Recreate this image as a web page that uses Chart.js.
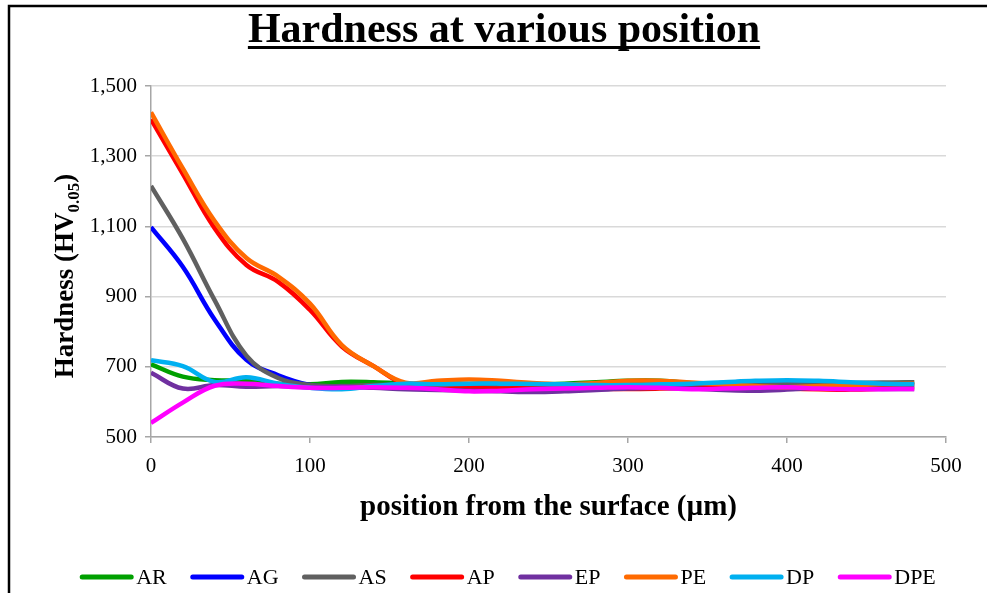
<!DOCTYPE html>
<html>
<head>
<meta charset="utf-8">
<title>Hardness at various position</title>
<script src="https://cdn.jsdelivr.net/npm/chart.js@4/dist/chart.umd.min.js"></script>
<style>
  html, body { margin: 0; padding: 0; background: #fff; }
  canvas { display: block; }
</style>
</head>
<body>
<canvas id="chart" width="987" height="593"></canvas>
<script>
// Measurement depths (µm from the surface)
const positions = [0, 20, 40, 60, 80, 100, 120, 140, 160, 180, 200, 220, 240, 260, 280, 300, 320, 340, 360, 380, 400, 420, 440, 460, 480];

// Hardness readings (HV0.05) for each surface treatment
const AR  = [707, 672, 662, 660, 652, 650, 657, 656, 652, 648, 645, 648, 650, 652, 656, 660, 660, 653, 645, 642, 645, 648, 650, 652, 656];
const AG  = [1098, 985, 835, 720, 676, 648, 640, 645, 648, 646, 645, 648, 646, 645, 644, 645, 647, 650, 654, 658, 656, 652, 648, 648, 648];
const AS  = [1215, 1065, 890, 732, 668, 648, 645, 648, 650, 652, 650, 648, 647, 645, 646, 648, 650, 650, 648, 648, 652, 654, 654, 655, 656];
const AP  = [1405, 1250, 1095, 990, 942, 862, 758, 702, 650, 645, 640, 638, 640, 640, 638, 637, 638, 640, 642, 640, 638, 636, 635, 638, 642];
const EP  = [683, 638, 648, 643, 645, 642, 643, 640, 636, 634, 632, 630, 628, 630, 634, 638, 640, 638, 634, 632, 635, 640, 638, 637, 637];
const PE  = [1425, 1265, 1115, 1010, 957, 880, 762, 702, 655, 660, 664, 660, 654, 650, 654, 660, 660, 655, 650, 645, 642, 645, 648, 650, 652];
const DP  = [719, 702, 657, 670, 652, 640, 636, 645, 652, 650, 652, 652, 651, 650, 648, 648, 650, 652, 656, 660, 662, 660, 656, 652, 650];
const DPE = [540, 598, 646, 652, 645, 640, 640, 642, 640, 636, 630, 632, 636, 638, 640, 642, 640, 636, 638, 640, 642, 638, 636, 636, 637];

const seriesNames  = ['AR', 'AG', 'AS', 'AP', 'EP', 'PE', 'DP', 'DPE'];
const seriesValues = [AR, AG, AS, AP, EP, PE, DP, DPE];
const seriesColors = ['#00a000', '#0000ff', '#606060', '#ff0000', '#7030a0', '#ff6a00', '#00b0f0', '#ff00ff'];

// Axis tick labels
const yTicks = [500, 700, 900, 1100, 1300, 1500];
const xTicks = [0, 100, 200, 300, 400, 500];

const SERIF = '"Liberation Serif", "Times New Roman", serif';

const datasets = seriesNames.map((name, i) => ({
  label: name,
  data: positions.map((x, k) => ({ x: x, y: seriesValues[i][k] })),
  borderColor: seriesColors[i],
  backgroundColor: seriesColors[i],
  borderWidth: 4.5,
  pointRadius: 0,
  tension: 0.4,
  fill: false,
  order: seriesNames.length - i   // later series painted on top
}));

// Frame, titles and legend drawn around the plot
const decor = {
  id: 'decor',
  beforeDraw(chart) {
    const ctx = chart.ctx;
    ctx.save();
    ctx.fillStyle = '#fff';
    ctx.fillRect(0, 0, chart.width, chart.height);
    ctx.strokeStyle = '#000';
    ctx.lineWidth = 2.5;
    ctx.beginPath();
    ctx.moveTo(9, chart.height);
    ctx.lineTo(9, 6);
    ctx.lineTo(chart.width, 6);
    ctx.stroke();
    ctx.restore();
  },
  afterDraw(chart) {
    const ctx = chart.ctx;
    const area = chart.chartArea;
    ctx.save();
    ctx.fillStyle = '#000';

    // Chart title, underlined
    const title = 'Hardness at various position';
    ctx.font = 'bold 42px ' + SERIF;
    ctx.textAlign = 'center';
    ctx.textBaseline = 'alphabetic';
    const tx = 504;
    ctx.fillText(title, tx, 42);
    const tw = ctx.measureText(title).width;
    ctx.fillRect(tx - tw / 2, 46, tw, 3);

    // X axis title
    ctx.font = 'bold 29px ' + SERIF;
    ctx.fillText('position from the surface (µm)', (area.left + area.right) / 2, 515);

    // Y axis title with subscript
    ctx.save();
    ctx.translate(73, 276);
    ctx.rotate(-Math.PI / 2);
    ctx.textAlign = 'left';
    const partA = 'Hardness (HV', sub = '0.05', partB = ')';
    const bigFont = 'bold 27px ' + SERIF, smallFont = 'bold 17px ' + SERIF;
    ctx.font = bigFont;
    const wA = ctx.measureText(partA).width, wB = ctx.measureText(partB).width;
    ctx.font = smallFont;
    const wS = ctx.measureText(sub).width;
    let x0 = -(wA + wS + wB) / 2;
    ctx.font = bigFont;
    ctx.fillText(partA, x0, 0);
    ctx.font = smallFont;
    ctx.fillText(sub, x0 + wA, 6);
    ctx.font = bigFont;
    ctx.fillText(partB, x0 + wA + wS, 0);
    ctx.restore();

    // Legend row
    ctx.font = '22px ' + SERIF;
    ctx.textAlign = 'left';
    ctx.textBaseline = 'middle';
    const sampleLen = 53, gap = 3, spacing = 24, ly = 577;
    const items = chart.data.datasets.map(ds => ({ label: ds.label, color: ds.borderColor, w: ctx.measureText(ds.label).width }));
    const total = items.reduce((s, it) => s + sampleLen + gap + it.w, 0) + spacing * (items.length - 1);
    let lx = 508 - total / 2;
    items.forEach(it => {
      ctx.strokeStyle = it.color;
      ctx.lineWidth = 5;
      ctx.lineCap = 'round';
      ctx.beginPath();
      ctx.moveTo(lx + 2, ly);
      ctx.lineTo(lx + sampleLen - 2, ly);
      ctx.stroke();
      ctx.fillStyle = '#000';
      ctx.fillText(it.label, lx + sampleLen + gap, ly + 1);
      lx += sampleLen + gap + it.w + spacing;
    });
    ctx.restore();
  }
};

new Chart(document.getElementById('chart'), {
  type: 'line',
  data: { datasets: datasets },
  options: {
    responsive: false,
    animation: false,
    layout: { padding: { left: 9, right: 41, top: 86, bottom: 56 } },
    plugins: {
      legend: { display: false },
      title: { display: false },
      tooltip: { enabled: false }
    },
    scales: {
      x: {
        type: 'linear',
        min: 0,
        max: 500,
        afterBuildTicks: s => { s.ticks = xTicks.map(v => ({ value: v })); },
        afterFit: s => { s.height = 100; },
        border: { display: true, color: '#a6a6a6', width: 1.5 },
        grid: { drawOnChartArea: false, drawTicks: true, tickLength: 6, tickColor: '#a6a6a6', lineWidth: 1.5 },
        ticks: { color: '#000', font: { family: SERIF, size: 21 }, padding: 11, maxRotation: 0 }
      },
      y: {
        type: 'linear',
        min: 500,
        max: 1500,
        afterBuildTicks: s => { s.ticks = yTicks.map(v => ({ value: v })); },
        afterFit: s => { s.width = 142; },
        border: { display: true, color: '#a6a6a6', width: 1.5 },
        grid: { color: '#d9d9d9', lineWidth: 1.5, drawTicks: true, tickLength: 6, tickColor: '#a6a6a6' },
        ticks: {
          color: '#000',
          font: { family: SERIF, size: 21 },
          padding: 8,
          callback: v => v.toLocaleString('en-US')
        }
      }
    }
  },
  plugins: [decor]
});
</script>
</body>
</html>
